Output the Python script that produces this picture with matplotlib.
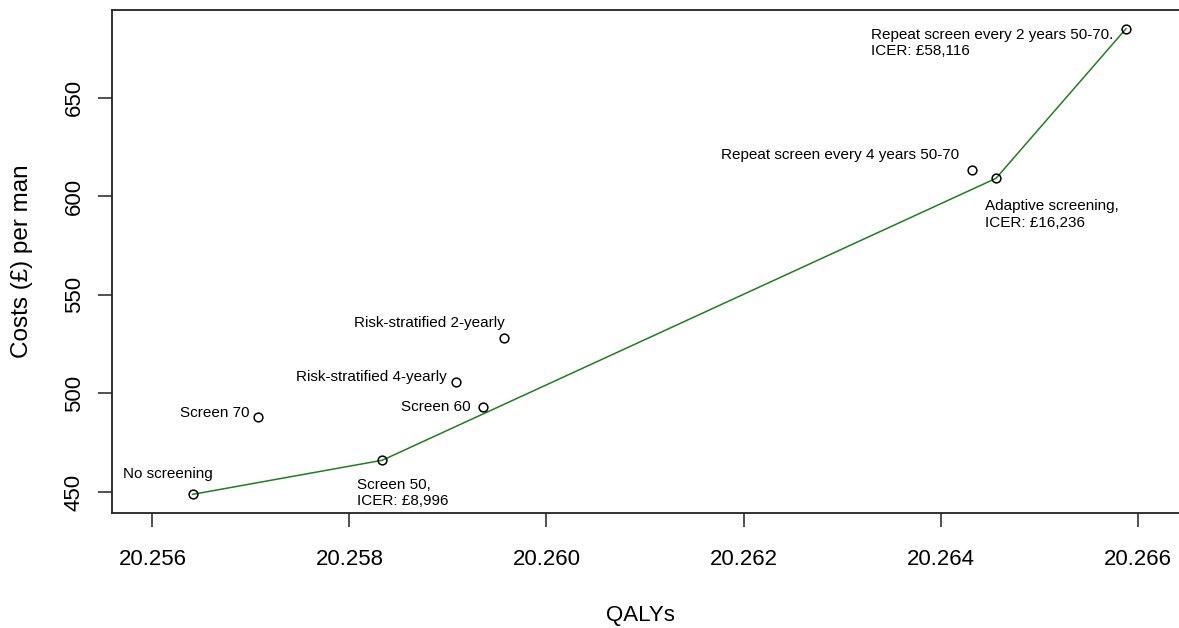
"""
Cost-effectiveness plane: QALYs vs cost per man, with the efficient frontier.
"""

import matplotlib
matplotlib.use("Agg")
import matplotlib.pyplot as plt

plt.rcParams["font.family"] = ["Liberation Sans", "DejaVu Sans"]

# Strategies and their outcomes.
strategies = [
    "No screening",
    "Screen 70",
    "Screen 50",
    "Risk-stratified 4-yearly",
    "Screen 60",
    "Risk-stratified 2-yearly",
    "Repeat screen every 4 years 50-70",
    "Adaptive screening",
    "Repeat screen every 2 years 50-70",
]
qalys = [20.256407, 20.257074, 20.258333, 20.259078, 20.259358,
         20.259569, 20.264320, 20.264563, 20.265883]
costs = [448.8, 488.2, 466.1, 505.8, 493.3, 528.3, 613.3, 609.1, 685.0]

labels = [
    "No screening",
    "Screen 70",
    "Screen 50,\nICER: £8,996",
    "Risk-stratified 4-yearly",
    "Screen 60",
    "Risk-stratified 2-yearly",
    "Repeat screen every 4 years 50-70",
    "Adaptive screening,\nICER: £16,236",
    "Repeat screen every 2 years 50-70.\nICER: £58,116",
]

# Non-dominated strategies, in order along the frontier.
frontier = ["No screening", "Screen 50", "Adaptive screening",
            "Repeat screen every 2 years 50-70"]

x_ticks = [20.256, 20.258, 20.260, 20.262, 20.264, 20.266]
y_ticks = [450, 500, 550, 600, 650]

# Label placement: (dx, dy) in pixels from the point to the baseline of the
# last text line, and horizontal alignment.
LABEL_POS = {
    "No screening": (-70, 16, "left"),
    "Screen 70": (-9, 0, "right"),
    "Screen 50": (-25.6, -44.7, "left"),
    "Risk-stratified 4-yearly": (-9, 1, "right"),
    "Screen 60": (-12.6, -4.3, "right"),
    "Risk-stratified 2-yearly": (0.3, 11, "right"),
    "Repeat screen every 4 years 50-70": (-12.7, 10.7, "right"),
    "Adaptive screening": (-11, -48.2, "left"),
    "Repeat screen every 2 years 50-70": (-255.3, -26.3, "left"),
}

fig = plt.figure(figsize=(11.79, 6.28), dpi=100)
ax = fig.add_axes([0.09474, 0.18360, 0.90526, 0.80048])

fx = [qalys[strategies.index(s)] for s in frontier]
fy = [costs[strategies.index(s)] for s in frontier]
ax.plot(fx, fy, color="#1c801c", lw=1.1, zorder=2)
ax.plot(qalys, costs, linestyle="none", marker="o", markersize=6.3,
        markerfacecolor="none", markeredgecolor="black",
        markeredgewidth=1.1, zorder=3)

for name, x, y, text in zip(strategies, qalys, costs, labels):
    dx, dy, ha = LABEL_POS[name]
    ax.annotate(text, (x, y), xytext=(dx, dy), textcoords="offset pixels",
                ha=ha, va="baseline", fontsize=11, linespacing=1.2)

ax.set_xlim(20.255586, 20.266421)
ax.set_ylim(439.5, 694.5)
ax.set_xticks(x_ticks, [f"{t:.3f}" for t in x_ticks])
ax.set_yticks(y_ticks, [str(t) for t in y_ticks])

ax.tick_params(axis="both", length=10, width=1.1, color="#222222",
               labelsize=16)
ax.tick_params(axis="x", pad=16)
ax.tick_params(axis="y", pad=9.5, labelrotation=90)
for lab in ax.get_yticklabels():
    lab.set_va("center")

for side in ["left", "bottom", "top"]:
    ax.spines[side].set_linewidth(1.3)
    ax.spines[side].set_color("#222222")
ax.spines["right"].set_visible(False)

ax.set_xlabel("QALYs", fontsize=16)
ax.set_ylabel("Costs (£) per man", fontsize=17.5)
ax.xaxis.set_label_coords(0.4955, -0.1836)
ax.yaxis.set_label_coords(-0.0735, 0.5)

fig.savefig("out.png", dpi=100)
